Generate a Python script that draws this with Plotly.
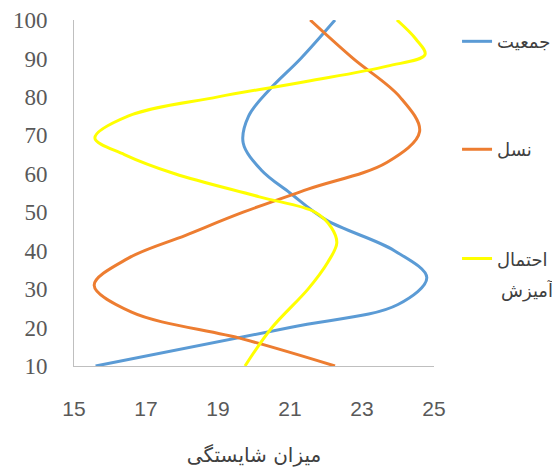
import plotly.graph_objects as go

# values (x = fitness, y = percent)
jamiyat_x = [15.6, 21.0, 24.0, 24.8, 23.9, 22.0, 21.0, 20.2, 19.7, 19.85, 20.44, 21.3, 22.25]
jamiyat_y = [10, 20, 26, 33, 40, 48, 55, 61, 68, 75, 82, 90, 100]

nasl_x = [22.25, 19.7, 16.6, 15.56, 16.5, 18.1, 19.7, 21.5, 23.7, 24.6, 24.05, 22.75, 21.56]
nasl_y = [10, 17, 24, 31, 38, 44, 50, 56, 63, 71, 80, 90, 100]

ehtemal_x = [19.75, 20.5, 21.5, 22.05, 22.3, 22.15, 21.7, 20.15, 17.8, 16.4, 15.58, 16.5, 19.0, 21.45, 23.7, 24.75, 24.5, 23.97]
ehtemal_y = [10, 20, 30, 37, 42, 46, 50, 54, 60, 65, 69.3, 75, 80, 84, 88, 91, 95, 100]

x_ticks = [15, 17, 19, 21, 23, 25]
y_ticks = [10, 20, 30, 40, 50, 60, 70, 80, 90, 100]

series = [
    ("جمعیت", jamiyat_x, jamiyat_y, "#5B9BD5", "legend", 0.991),
    ("نسل", nasl_x, nasl_y, "#ED7D31", "legend2", 0.679),
    ("احتمال", ehtemal_x, ehtemal_y, "#FFFF00", "legend3", 0.363),
]

fig = go.Figure()
legend_font = dict(family="DejaVu Sans", size=18, color="#404040")
for name, xs, ys, color, leg, ly in series:
    fig.add_trace(
        go.Scatter(
            x=xs,
            y=ys,
            name=name,
            mode="lines",
            line=dict(color=color, width=3, shape="spline", smoothing=1.0),
            legend=leg,
        )
    )
    fig.update_layout(
        {
            leg: dict(
                x=1.064,
                y=ly,
                xanchor="left",
                yanchor="top",
                font=legend_font,
                bgcolor="rgba(0,0,0,0)",
            )
        }
    )

# second line of the yellow series label
fig.add_annotation(
    text="آمیزش",
    xref="paper",
    yref="paper",
    x=1.18,
    y=0.219,
    xanchor="left",
    yanchor="middle",
    showarrow=False,
    font=legend_font,
)

# page body has an 8px margin, so the figure is a bit smaller than the window
fig.update_layout(
    width=552,
    height=460,
    margin=dict(l=66, r=126, t=12, b=102, autoexpand=False),
    paper_bgcolor="white",
    plot_bgcolor="white",
    font=dict(family="DejaVu Sans", color="#595959"),
    showlegend=True,
)

fig.update_xaxes(
    range=[15, 25],
    tickvals=x_ticks,
    showgrid=False,
    zeroline=False,
    showline=True,
    linecolor="#BFBFBF",
    linewidth=1,
    ticks="",
    automargin=False,
    tickfont=dict(family="Liberation Sans", size=21, color="#595959"),
    ticklabelstandoff=24,
    title=dict(text="میزان شایستگی", font=dict(size=20, color="#404040"), standoff=28),
)
fig.update_yaxes(
    range=[10, 100],
    tickvals=y_ticks,
    showgrid=False,
    zeroline=False,
    showline=True,
    linecolor="#BFBFBF",
    linewidth=1,
    ticks="",
    automargin=False,
    tickfont=dict(family="Liberation Serif", size=23, color="#595959"),
    ticklabelstandoff=21,
)

fig.write_html("out.html")
